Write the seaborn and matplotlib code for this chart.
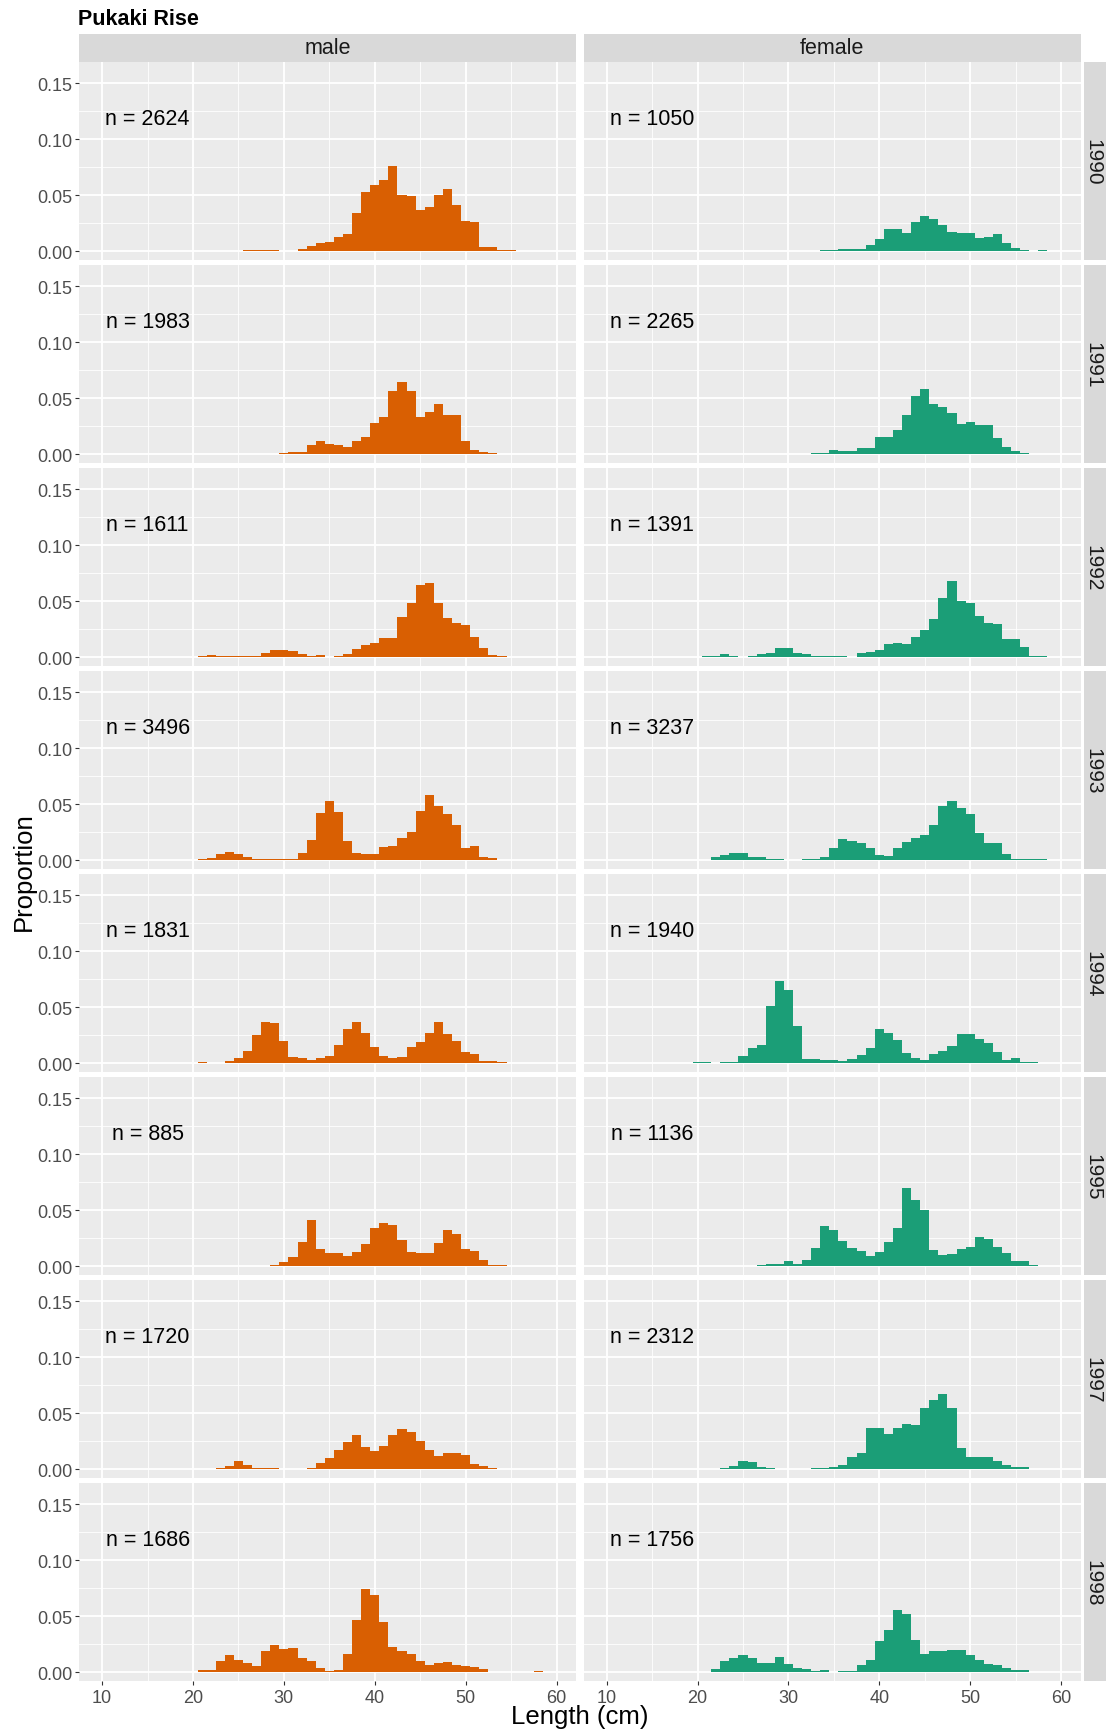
import numpy as np
import pandas as pd
import seaborn as sns
import matplotlib.pyplot as plt
from matplotlib.patches import Rectangle
from matplotlib.ticker import FixedLocator, FormatStrFormatter

plt.rcParams['font.family'] = ['Liberation Sans', 'DejaVu Sans']

# Pukaki Rise length frequencies, proportion per 1 cm length class
years = [1990, 1991, 1992, 1993, 1994, 1995, 1997, 1998]
sexes = ['male', 'female']
n_male = [2624, 1983, 1611, 3496, 1831, 885, 1720, 1686]
n_female = [1050, 2265, 1391, 3237, 1940, 1136, 2312, 1756]
colours = {'male': '#D95F02', 'female': '#1B9E77'}

male_1990_start = 26
male_1990 = [0.0005, 0.0005, 0.001, 0.0005, 0, 0, 0.002, 0.0045, 0.0075, 0.008,
             0.0125, 0.0155, 0.034, 0.053, 0.059, 0.0635, 0.0757, 0.050, 0.049, 0.037,
             0.0395, 0.050, 0.055, 0.041, 0.027, 0.026, 0.0035, 0.0035, 0.0005, 0.0005]
female_1990_start = 27
female_1990 = [0.0004, 0, 0.0004, 0, 0, 0, 0, 0.0005, 0.0005, 0.0015,
               0.0015, 0.0015, 0.0054, 0.0104, 0.020, 0.0193, 0.0164, 0.026, 0.031, 0.029,
               0.023, 0.017, 0.0164, 0.0164, 0.012, 0.0128, 0.0149, 0.0074, 0.003, 0.0005,
               0, 0.0005]

male_1991_start = 30
male_1991 = [0.0005, 0.0015, 0.002, 0.008, 0.0118, 0.0088, 0.0082, 0.0065, 0.0118, 0.0153,
             0.0274, 0.0332, 0.056, 0.064, 0.056, 0.033, 0.0376, 0.0447, 0.0353, 0.0353,
             0.0118, 0.0038, 0.0015, 0.0005]
female_1991_start = 33
female_1991 = [0.0005, 0.001, 0.004, 0.003, 0.003, 0.005, 0.005, 0.0155, 0.0155, 0.0215,
               0.035, 0.0515, 0.058, 0.045, 0.042, 0.037, 0.027, 0.0285, 0.026, 0.026,
               0.014, 0.006, 0.0024, 0.0005]

male_1992_start = 21
male_1992 = [0.001, 0.0015, 0.0005, 0.0005, 0.0005, 0.0005, 0.0005, 0.004, 0.0065, 0.0065,
             0.0057, 0.0024, 0.0005, 0.002, 0, 0.0008, 0.003, 0.0068, 0.0104, 0.0124,
             0.017, 0.0168, 0.036, 0.048, 0.064, 0.066, 0.048, 0.035, 0.030, 0.029,
             0.0178, 0.008, 0.0018, 0.0005]
female_1992_start = 21
female_1992 = [0.0012, 0.0005, 0.003, 0.0012, 0, 0.001, 0.003, 0.004, 0.0083, 0.0083,
               0.0035, 0.0024, 0.0008, 0.0008, 0.0008, 0.0008, 0, 0.0033, 0.0044, 0.006,
               0.012, 0.0124, 0.012, 0.0178, 0.0237, 0.034, 0.053, 0.068, 0.0497, 0.048,
               0.037, 0.030, 0.0296, 0.0157, 0.0157, 0.009, 0.0006, 0.0006]

male_1993_start = 21
male_1993 = [0.001, 0.0015, 0.005, 0.0068, 0.0056, 0.0027, 0.001, 0.001, 0.001, 0.0005,
             0.0005, 0.0065, 0.018, 0.042, 0.053, 0.0426, 0.017, 0.0065, 0.005, 0.0056,
             0.0118, 0.0124, 0.0198, 0.0254, 0.0438, 0.0577, 0.048, 0.0414, 0.031, 0.011,
             0.0127, 0.0024, 0.0018]
female_1993_start = 22
female_1993 = [0.0024, 0.0044, 0.0065, 0.0065, 0.003, 0.003, 0.0006, 0.0006, 0, 0,
               0.0006, 0.0006, 0.0027, 0.0104, 0.019, 0.0172, 0.0148, 0.0104, 0.0044, 0.0038,
               0.0104, 0.0157, 0.0198, 0.0225, 0.031, 0.048, 0.0527, 0.0467, 0.0414, 0.0245,
               0.0148, 0.0148, 0.005, 0.0012, 0.0012, 0.0006, 0.0006]

male_1994_start = 21
male_1994 = [0.0012, 0, 0, 0.0015, 0.0048, 0.011, 0.025, 0.037, 0.0354, 0.0196,
             0.0054, 0.0042, 0.003, 0.0042, 0.0065, 0.016, 0.030, 0.0366, 0.0265, 0.0146,
             0.0065, 0.0042, 0.005, 0.0146, 0.019, 0.0268, 0.0369, 0.026, 0.0193, 0.0095,
             0.008, 0.0015, 0.0015, 0.0005]
female_1994_start = 20
female_1994 = [0.0005, 0.0005, 0, 0.0012, 0.0012, 0.0065, 0.013, 0.016, 0.0512, 0.0735,
               0.065, 0.0327, 0.0036, 0.0036, 0.003, 0.0027, 0.0021, 0.0036, 0.0071, 0.013,
               0.0306, 0.0268, 0.0205, 0.009, 0.0042, 0.003, 0.008, 0.011, 0.0155, 0.026,
               0.026, 0.0214, 0.0176, 0.0095, 0.0027, 0.0042, 0.0006, 0.001]

male_1995_start = 26
male_1995 = [0.0003, 0.0003, 0, 0.0006, 0.004, 0.0083, 0.0216, 0.041, 0.0148, 0.0112,
             0.0112, 0.0089, 0.0127, 0.020, 0.034, 0.038, 0.0364, 0.023, 0.0121, 0.0112,
             0.0112, 0.021, 0.0325, 0.029, 0.015, 0.0136, 0.005, 0.0005, 0.0005]
female_1995_start = 27
female_1995 = [0.0006, 0.002, 0.0015, 0.0044, 0.002, 0.0053, 0.0157, 0.036, 0.0325, 0.0225,
               0.0157, 0.0133, 0.0092, 0.0121, 0.0216, 0.034, 0.070, 0.0586, 0.0497, 0.0142,
               0.0098, 0.0104, 0.015, 0.0166, 0.026, 0.024, 0.0166, 0.0112, 0.0044, 0.0044,
               0.0009]

male_1997_start = 23
male_1997 = [0.0012, 0.003, 0.0071, 0.0036, 0.0012, 0.0009, 0.0006, 0, 0, 0,
             0.0006, 0.005, 0.0095, 0.017, 0.0238, 0.0304, 0.0196, 0.016, 0.0205, 0.030,
             0.0354, 0.0327, 0.025, 0.017, 0.0116, 0.0146, 0.014, 0.0125, 0.0042, 0.003,
             0.0006]
female_1997_start = 23
female_1997 = [0.0006, 0.003, 0.0071, 0.006, 0.0021, 0.0006, 0, 0, 0, 0,
               0.0006, 0.0012, 0.0021, 0.0036, 0.011, 0.014, 0.0363, 0.0363, 0.031, 0.0363,
               0.040, 0.039, 0.0548, 0.0616, 0.067, 0.0548, 0.019, 0.011, 0.011, 0.011,
               0.0074, 0.0036, 0.0021, 0.0021]

male_1998_start = 21
male_1998 = [0.002, 0.002, 0.0095, 0.015, 0.0104, 0.0083, 0.005, 0.0185, 0.0238, 0.0208,
             0.0214, 0.0125, 0.0095, 0.0039, 0.0006, 0.002, 0.0164, 0.0467, 0.0744, 0.0685,
             0.0446, 0.0223, 0.0185, 0.0164, 0.0095, 0.006, 0.0083, 0.0092, 0.006, 0.005,
             0.0045, 0.003, 0, 0, 0, 0, 0, 0.0009]
female_1998_start = 22
female_1998 = [0.003, 0.0095, 0.0125, 0.0155, 0.0128, 0.008, 0.008, 0.0134, 0.0068, 0.0036,
               0.0024, 0.0009, 0.0015, 0, 0.0006, 0.0006, 0.006, 0.011, 0.0277, 0.0378,
               0.0557, 0.052, 0.029, 0.0164, 0.0188, 0.0188, 0.0193, 0.020, 0.0149, 0.011,
               0.0068, 0.006, 0.0039, 0.0015, 0.0015]

panels = [
    (1990, 'male', male_1990_start, male_1990), (1990, 'female', female_1990_start, female_1990),
    (1991, 'male', male_1991_start, male_1991), (1991, 'female', female_1991_start, female_1991),
    (1992, 'male', male_1992_start, male_1992), (1992, 'female', female_1992_start, female_1992),
    (1993, 'male', male_1993_start, male_1993), (1993, 'female', female_1993_start, female_1993),
    (1994, 'male', male_1994_start, male_1994), (1994, 'female', female_1994_start, female_1994),
    (1995, 'male', male_1995_start, male_1995), (1995, 'female', female_1995_start, female_1995),
    (1997, 'male', male_1997_start, male_1997), (1997, 'female', female_1997_start, female_1997),
    (1998, 'male', male_1998_start, male_1998), (1998, 'female', female_1998_start, female_1998),
]

records = []
for year, sex, start, values in panels:
    for k, p in enumerate(values):
        records.append({'year': year, 'sex': sex, 'length': start + k, 'prop': p})
df = pd.DataFrame(records)

# Facet grid, one histogram per year x sex
g = sns.FacetGrid(df, row='year', col='sex', hue='sex', palette=colours,
                  row_order=years, col_order=sexes, hue_order=sexes,
                  sharex=True, sharey=True, despine=False)
g.map_dataframe(sns.histplot, x='length', weights='prop', discrete=True,
                alpha=1, linewidth=0)

fig = g.figure
fig.set_size_inches(11.06, 17.33)
fig.subplots_adjust(left=79 / 1106, right=1081 / 1106, top=1 - 63 / 1733,
                    bottom=51 / 1733, wspace=7 / 497, hspace=5 / 198)

strip_col = '#D9D9D9'
nrow = len(years)
for (i, j), ax in np.ndenumerate(g.axes):
    ax.set_title('')
    ax.set_xlabel('')
    ax.set_ylabel('')
    ax.set_facecolor('#EBEBEB')
    ax.set_xlim(7.45, 62.2)
    ax.set_ylim(-0.008, 0.1688)
    ax.xaxis.set_major_locator(FixedLocator([10, 20, 30, 40, 50, 60]))
    ax.xaxis.set_minor_locator(FixedLocator([15, 25, 35, 45, 55]))
    ax.yaxis.set_major_locator(FixedLocator([0, 0.05, 0.10, 0.15]))
    ax.yaxis.set_minor_locator(FixedLocator([0.025, 0.075, 0.125]))
    ax.yaxis.set_major_formatter(FormatStrFormatter('%.2f'))
    ax.grid(which='major', color='white', linewidth=1.3)
    ax.grid(which='minor', color='white', linewidth=0.6)
    ax.set_axisbelow(True)
    for s in ax.spines.values():
        s.set_visible(False)
    ax.tick_params(which='minor', length=0)
    ax.tick_params(which='major', length=3, width=0.8, color='#333333',
                   labelcolor='#4D4D4D', labelsize=13, pad=2)
    if i != nrow - 1:
        ax.tick_params(axis='x', length=0, labelbottom=False)
    else:
        ax.tick_params(axis='x', labelbottom=True, pad=3)
    if j != 0:
        ax.tick_params(axis='y', length=0, labelleft=False)

    n = n_male[i] if j == 0 else n_female[i]
    ax.text(15, 0.113, f'n = {n}', ha='center', va='baseline', fontsize=15.5, color='black')

    if i == 0:
        ax.add_patch(Rectangle((0, 1), 1, 28 / 198, transform=ax.transAxes,
                               clip_on=False, facecolor=strip_col, edgecolor='none'))
        ax.text(0.5, 1 + 14 / 198, sexes[j], transform=ax.transAxes, ha='center',
                va='center', fontsize=15.5, color='#1A1A1A')
    if j == 1:
        ax.add_patch(Rectangle((1 + 3 / 498, 0), 30 / 498, 1, transform=ax.transAxes,
                               clip_on=False, facecolor=strip_col, edgecolor='none'))
        ax.text(1 + 12 / 498, 0.5, str(years[i]), transform=ax.transAxes, ha='center',
                va='center', rotation=-90, fontsize=15, color='#1A1A1A')

fig.text(78 / 1106, 1 - 25 / 1733, 'Pukaki Rise', ha='left', va='baseline',
         fontsize=15.5, fontweight='bold')
fig.text(580 / 1106, 1 - 1717 / 1733, 'Length (cm)', ha='center', va='center', fontsize=18.5)
fig.text(24 / 1106, 1 - 872 / 1733, 'Proportion', ha='center', va='center',
         rotation=90, fontsize=18.5)

fig.savefig('out.png', dpi=100)
